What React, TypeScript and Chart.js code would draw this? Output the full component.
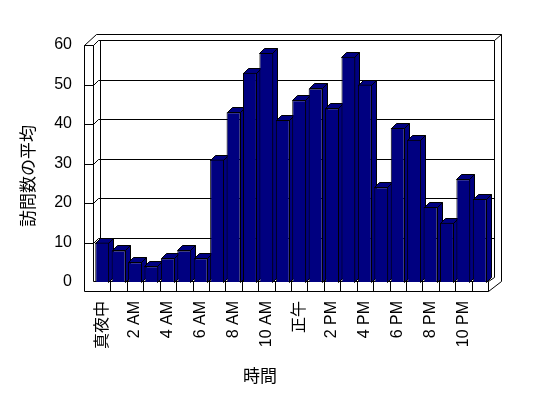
import React, { useEffect, useRef } from 'react';
import { Chart, registerables } from 'chart.js';

Chart.register(...registerables);

const hours = ['真夜中', '1 AM', '2 AM', '3 AM', '4 AM', '5 AM', '6 AM', '7 AM', '8 AM', '9 AM', '10 AM', '11 AM',
  '正午', '1 PM', '2 PM', '3 PM', '4 PM', '5 PM', '6 PM', '7 PM', '8 PM', '9 PM', '10 PM', '11 PM'];
const averageVisits = [10, 8, 5, 4, 6, 8, 6, 31, 43, 53, 58, 41, 46, 49, 44, 57, 50, 24, 39, 36, 19, 15, 26, 21];
const yTickValues = [0, 10, 20, 30, 40, 50, 60];
const yTitle = '訪問数の平均';
const xTitle = '時間';

const FONT = "'Liberation Sans', 'Noto Sans CJK JP', sans-serif";
const NAVY = '#000080';

const frame3d = {
  id: 'frame3d',
  beforeDatasetsDraw(chart: any) {
    const { ctx, chartArea: ca, scales } = chart;
    const ys = scales.y;
    const L = Math.round(ca.left), R = Math.round(ca.right), T = Math.round(ca.top), B = Math.round(ca.bottom);
    ctx.save();
    ctx.strokeStyle = '#000';
    ctx.lineWidth = 1;
    const line = (pts: number[][]) => {
      ctx.beginPath();
      pts.forEach(([a, b], i) => (i ? ctx.lineTo(a + 0.5, b + 0.5) : ctx.moveTo(a + 0.5, b + 0.5)));
      ctx.stroke();
    };
    // outer frame of walls
    line([[L - 10, B + 9], [L - 10, T], [L + 2, T - 11], [R + 13, T - 11], [R + 13, B - 1], [R, B + 9], [L - 10, B + 9]]);
    // left wall front face
    line([[L - 10, T], [L - 1, T]]);
    line([[L - 1, T], [L - 1, B - 1]]);
    // back wall face
    line([[L + 6, T - 5], [L + 6, B - 5]]);
    line([[R + 6, T - 5], [R + 6, B - 5]]);
    line([[R + 6, T - 5], [R + 13, T - 11]]);
    // floor front face
    line([[L - 1, B - 1], [R, B - 1], [R, B + 9]]);
    line([[R, B - 1], [R + 6, B - 5]]);
    // category dividers
    const n = hours.length;
    for (let i = 1; i < n; i++) {
      const xx = Math.round(L + (i * (R - L)) / n);
      line([[xx, B - 1], [xx, B + 9]]);
    }
    // grid lines
    yTickValues.forEach((v) => {
      if (v === 0) return;
      const yy = Math.round(ys.getPixelForValue(v));
      line([[L - 10, yy], [L - 1, yy], [L + 4, yy - 5], [R + 6, yy - 5]]);
    });
    // bars: side and top faces
    const meta = chart.getDatasetMeta(0);
    const d = 5;
    meta.data.forEach((bar: any) => {
      const { x, y, base, width } = bar.getProps(['x', 'y', 'base', 'width'], true);
      const l = Math.round(x - width / 2), r = Math.round(x + width / 2) - 1;
      const t = Math.round(y), b = Math.round(base);
      ctx.fillStyle = NAVY;
      ctx.beginPath();
      ctx.moveTo(r + 0.5, t + 0.5);
      ctx.lineTo(r + d + 0.5, t - d + 0.5);
      ctx.lineTo(r + d + 0.5, b - d + 0.5);
      ctx.lineTo(r + 0.5, b + 0.5);
      ctx.closePath();
      ctx.fill();
      ctx.stroke();
      ctx.beginPath();
      ctx.moveTo(l + 0.5, t + 0.5);
      ctx.lineTo(l + d + 0.5, t - d + 0.5);
      ctx.lineTo(r + d + 0.5, t - d + 0.5);
      ctx.lineTo(r + 0.5, t + 0.5);
      ctx.closePath();
      ctx.fill();
      ctx.stroke();
    });
    ctx.restore();
  },
  afterDraw(chart: any) {
    const { ctx } = chart;
    ctx.save();
    ctx.fillStyle = '#000';
    ctx.font = `17px ${FONT}`;
    ctx.textAlign = 'center';
    ctx.textBaseline = 'middle';
    ctx.fillText(xTitle, 260, 377);
    ctx.translate(29, 176);
    ctx.rotate(-Math.PI / 2);
    ctx.fillText(yTitle, 0, 0);
    ctx.restore();
  },
};

export default function App() {
  const ref = useRef<HTMLCanvasElement>(null);
  useEffect(() => {
    if (!ref.current) return;
    Chart.defaults.font.family = FONT;
    Chart.defaults.color = '#000';
    const chart = new Chart(ref.current, {
      type: 'bar',
      data: {
        labels: hours,
        datasets: [
          {
            data: averageVisits,
            backgroundColor: NAVY,
            borderColor: '#000',
            borderWidth: 1,
            barPercentage: 0.85,
            categoryPercentage: 1,
          },
        ],
      },
      options: {
        responsive: false,
        animation: false,
        devicePixelRatio: 1,
        layout: { padding: { top: 45, right: 60, left: 0, bottom: 0 } },
        plugins: { legend: { display: false }, tooltip: { enabled: false } },
        scales: {
          x: {
            grid: { display: false, drawTicks: false },
            border: { display: false },
            ticks: {
              autoSkip: false,
              maxRotation: 90,
              minRotation: 90,
              padding: 19,
              font: { size: 16 },
              callback: (_v: any, i: number) => (i % 2 === 0 ? hours[i] : ''),
            },
            afterFit: (s: any) => {
              s.height = 116;
            },
          },
          y: {
            min: 0,
            max: 60,
            grid: { display: false, drawTicks: false },
            border: { display: false },
            ticks: { stepSize: 10, padding: 22, font: { size: 16 } },
            afterFit: (s: any) => {
              s.width = 94;
            },
          },
        },
      },
      plugins: [frame3d],
    });
    return () => chart.destroy();
  }, []);
  return (
    <div style={{ position: 'fixed', left: 0, top: 0, width: 548, height: 398, background: '#fff' }}>
      <canvas ref={ref} width={548} height={398} style={{ display: 'block' }} />
    </div>
  );
}
